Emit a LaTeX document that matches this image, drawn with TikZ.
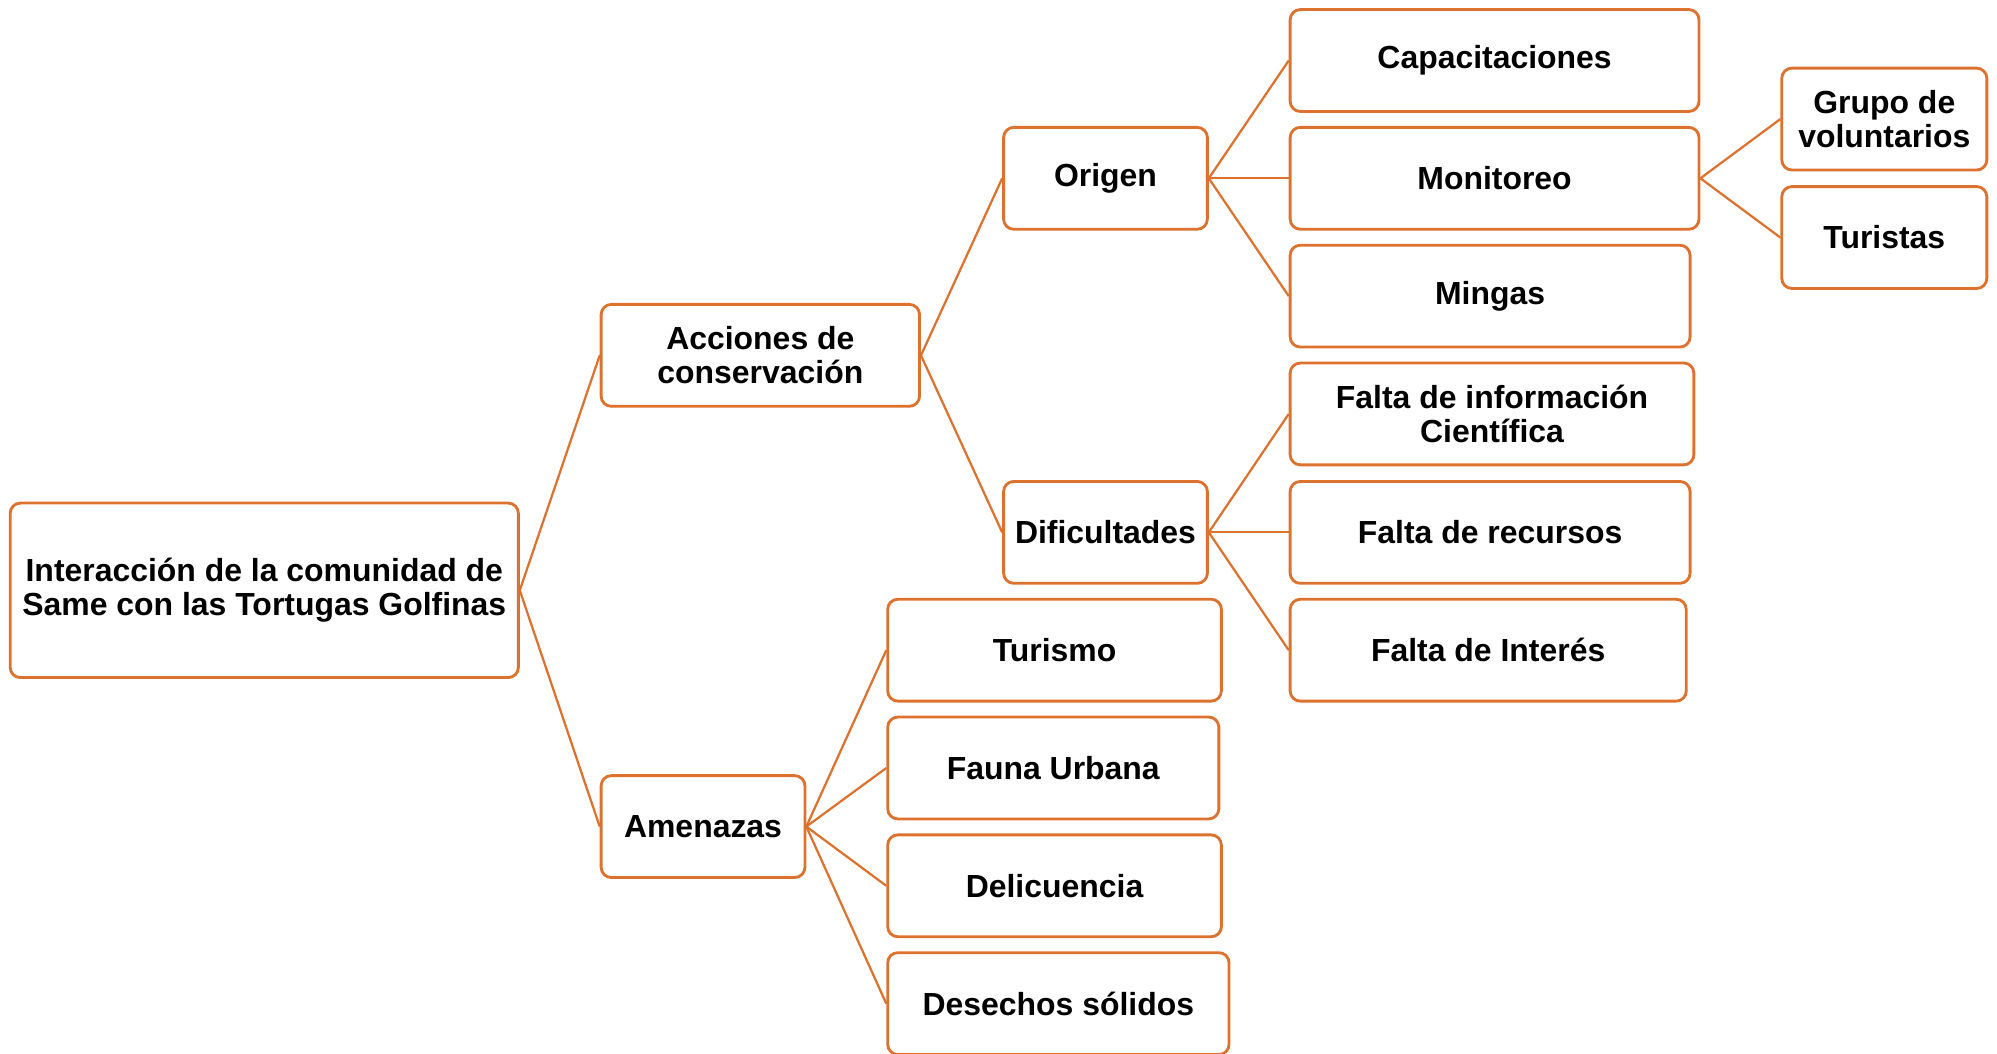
\documentclass[tikz,border=0pt]{standalone}
\usepackage{fontspec}
\setmainfont{Liberation Sans}
\definecolor{naranja}{RGB}{221,114,46}

\tikzset{
  caja/.style={draw=naranja, line width=1.9pt, rounded corners=0.24cm,
    minimum height=2.4cm, inner sep=0pt, align=center,
    font=\bfseries\fontsize{21.4}{22.5}\selectfont},
  rama/.style={draw=naranja, line width=1.5pt}
}

\begin{document}
\begin{tikzpicture}[x=0.03cm, y=-0.03cm]
  \useasboundingbox (0,0) rectangle (1568,827);
  % nivel 0
  \node[caja, minimum width=11.97cm, minimum height=4.11cm] (raiz) at (207.5,463.5)
    {Interacción de la comunidad de\\Same con las Tortugas Golfinas};
  % nivel 1
  \node[caja, minimum width=7.5cm] (acciones) at (597,279) {Acciones de\\conservación};
  \node[caja, minimum width=4.8cm] (amenazas) at (552,649) {Amenazas};
  % nivel 2
  \node[caja, minimum width=4.8cm] (origen) at (868,140) {Origen};
  \node[caja, minimum width=4.8cm] (dificultades) at (868,418) {Dificultades};
  \node[caja, minimum width=7.86cm] (turismo) at (828,510.5) {Turismo};
  \node[caja, minimum width=7.8cm] (fauna) at (827,603) {Fauna Urbana};
  \node[caja, minimum width=7.86cm] (delicuencia) at (828,695.5) {Delicuencia};
  \node[caja, minimum width=8.04cm] (desechos) at (831,788) {Desechos sólidos};
  % nivel 3
  \node[caja, minimum width=9.63cm] (capacitaciones) at (1173.5,47.5) {Capacitaciones};
  \node[caja, minimum width=9.63cm] (monitoreo) at (1173.5,140) {Monitoreo};
  \node[caja, minimum width=9.42cm] (mingas) at (1170,232.5) {Mingas};
  \node[caja, minimum width=9.51cm] (informacion) at (1171.5,325)
    {Falta de información\\Científica};
  \node[caja, minimum width=9.42cm] (recursos) at (1170,418) {Falta de recursos};
  \node[caja, minimum width=9.33cm] (interes) at (1168.5,510.5) {Falta de Interés};
  % nivel 4
  \node[caja, minimum width=4.83cm] (voluntarios) at (1479.5,93.5) {Grupo de\\voluntarios};
  \node[caja, minimum width=4.83cm] (turistas) at (1479.5,186.5) {Turistas};

  % conectores
  \foreach \padre/\hijo in {raiz/acciones, raiz/amenazas,
      acciones/origen, acciones/dificultades,
      origen/capacitaciones, origen/monitoreo, origen/mingas,
      dificultades/informacion, dificultades/recursos, dificultades/interes,
      amenazas/turismo, amenazas/fauna, amenazas/delicuencia, amenazas/desechos,
      monitoreo/voluntarios, monitoreo/turistas}
    \draw[rama] (\padre.east) -- (\hijo.west);
\end{tikzpicture}
\end{document}
